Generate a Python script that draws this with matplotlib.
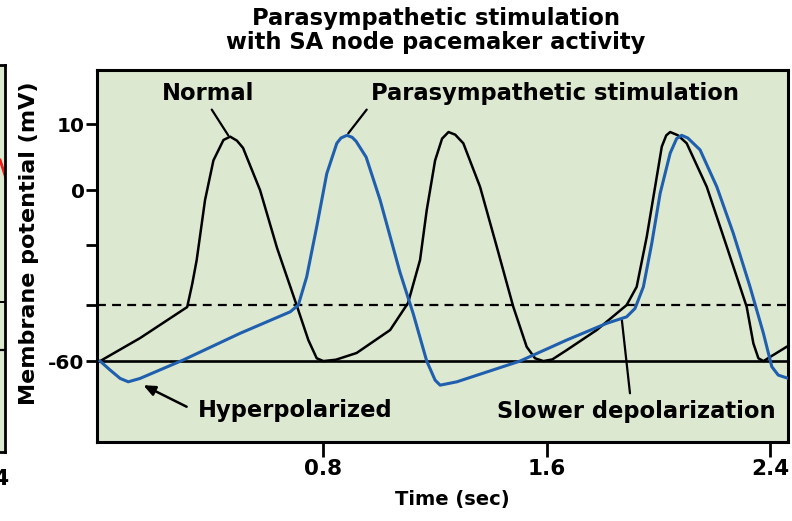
import numpy as np
import matplotlib
matplotlib.use("Agg")
import matplotlib.pyplot as plt

# ---------------- data (time in s, membrane potential in mV) ----------------
normal_t = [0.000, 0.143, 0.312, 0.330, 0.346, 0.376, 0.406, 0.442, 0.466, 0.490, 0.512,
            0.573, 0.634, 0.706, 0.746, 0.776, 0.800, 0.845,
            0.919, 1.039, 1.103, 1.146, 1.170, 1.200, 1.225, 1.248, 1.272, 1.301,
            1.361, 1.421, 1.480, 1.528, 1.558, 1.588, 1.620,
            1.671, 1.779, 1.886, 1.922, 1.958, 1.988, 2.012, 2.028, 2.042, 2.070,
            2.101, 2.173, 2.245, 2.316, 2.340, 2.358, 2.376, 2.459]
normal_v = [-60.0, -51.8, -40.7, -33.0, -25.0, -3.6, 4.5, 7.6, 8.1, 7.5, 6.4,
            0.0, -21.0, -40.6, -52.5, -59.0, -60.0, -59.5,
            -57.1, -48.9, -39.3, -25.0, -7.3, 4.5, 7.8, 8.8, 8.4, 7.1,
            0.5, -20.6, -40.6, -54.9, -59.0, -60.0, -59.4,
            -56.1, -48.9, -40.0, -33.9, -17.0, 0.5, 6.6, 8.3, 8.8, 8.3,
            7.1, 0.5, -20.6, -40.6, -53.7, -59.0, -60.0, -54.9]

para_t = [0.000, 0.036, 0.072, 0.101, 0.143, 0.298, 0.501, 0.681, 0.710, 0.740,
          0.776, 0.812, 0.848, 0.863, 0.884, 0.903, 0.917, 0.953, 1.003, 1.074,
          1.122, 1.170, 1.200, 1.218, 1.278, 1.504, 1.671, 1.815, 1.886, 1.916,
          1.946, 1.976, 2.006, 2.042, 2.065, 2.083, 2.105, 2.149, 2.209, 2.268,
          2.328, 2.376, 2.406, 2.429, 2.465]
para_v = [-60.0, -63.2, -66.2, -67.4, -66.2, -59.6, -50.1, -42.4, -40.0, -30.6,
          -13.3, 2.5, 7.1, 7.9, 8.3, 8.0, 7.4, 5.0, -3.6, -29.0,
          -43.2, -60.0, -66.8, -68.6, -67.4, -60.0, -52.5, -46.5, -44.2, -41.2,
          -33.9, -19.4, -1.2, 5.6, 7.8, 8.3, 7.9, 6.1, 0.5, -15.7,
          -33.9, -50.1, -62.0, -65.0, -66.2]

# fragment of the neighbouring (sympathetic) panel visible at the left edge
symp_t = [2.440, 2.470]
symp_v = [7.7, 3.6]

resting_mv = -60
threshold_mv = -40
ytick_vals = [10, 0, -20, -40, -60]
ytick_labels = ["10", "0", "", "", "-60"]
xtick_vals = [0.8, 1.6, 2.4]
xtick_labels = ["0.8", "1.6", "2.4"]

# ---------------- schematic (non-linear) potential axis ----------------
MV_K = np.array([-60.0, -40.0, -20.0, 0.0, 10.0])
POS_K = np.array([0.0, 56.0, 116.0, 171.0, 237.0])
S_LO = (POS_K[1] - POS_K[0]) / (MV_K[1] - MV_K[0])
S_HI = (POS_K[-1] - POS_K[-2]) / (MV_K[-1] - MV_K[-2])


def fwd(v):
    v = np.asarray(v, dtype=float)
    out = np.interp(v, MV_K, POS_K)
    out = np.where(v < MV_K[0], POS_K[0] + (v - MV_K[0]) * S_LO, out)
    out = np.where(v > MV_K[-1], POS_K[-1] + (v - MV_K[-1]) * S_HI, out)
    return out


def inv(p):
    p = np.asarray(p, dtype=float)
    out = np.interp(p, POS_K, MV_K)
    out = np.where(p < POS_K[0], MV_K[0] + (p - POS_K[0]) / S_LO, out)
    out = np.where(p > POS_K[-1], MV_K[-1] + (p - POS_K[-1]) / S_HI, out)
    return out


# ---------------- styling ----------------
BG = "#dde8d1"
BLUE = "#1f5fae"
plt.rcParams["font.family"] = ["DejaVu Sans"]
plt.rcParams["font.weight"] = "bold"

W, H = 792, 521
fig = plt.figure(figsize=(W / 100, H / 100), dpi=100)

# ---- left neighbouring panel (mostly outside the figure) ----
axL = fig.add_axes([-400 / W, 1 - 452 / H, 405 / W, (452 - 65) / H])
axL.set_facecolor(BG)
axL.set_yscale("function", functions=(fwd, inv))
axL.set_xlim(2.46 - 405 / 279.2, 2.46)
axL.set_ylim(-102.5, 24.5)
axL.axhline(resting_mv, color="black", lw=1.6)
axL.axhline(threshold_mv, color="black", lw=1.4, dashes=(4, 3))
axL.plot(symp_t, symp_v, color="#e8201c", lw=2.0)
axL.set_xticks(xtick_vals)
axL.set_xticklabels(xtick_labels, fontsize=15.5, fontweight="bold")
axL.set_yticks([])
axL.tick_params(axis="x", length=10, width=2, pad=2)
for s in axL.spines.values():
    s.set_linewidth(2.0)

# ---- main panel ----
ax = fig.add_axes([97 / W, 1 - 442 / H, (788 - 97) / W, (442 - 70) / H])
ax.set_facecolor(BG)
ax.set_yscale("function", functions=(fwd, inv))
ax.set_xlim(-0.011, 2.464)
ax.set_ylim(-88.9, 18.2)

ax.axhline(resting_mv, color="black", lw=1.9, zorder=2)
ax.axhline(threshold_mv, color="black", lw=1.6, dashes=(4, 2.8), zorder=2)

ax.plot(normal_t, normal_v, color="black", lw=1.8, solid_joinstyle="round", zorder=3)
ax.plot(para_t, para_v, color=BLUE, lw=2.2, solid_joinstyle="round", zorder=4)

ax.set_xticks(xtick_vals)
ax.set_xticklabels(xtick_labels, fontsize=15.5, fontweight="bold")
ax.set_yticks(ytick_vals)
ax.set_yticklabels(ytick_labels, fontsize=14.5, fontweight="bold")
ax.yaxis.set_minor_locator(matplotlib.ticker.NullLocator())
ax.tick_params(axis="x", direction="out", length=10.5, width=2.0, pad=2)
ax.tick_params(axis="y", direction="out", length=8, width=2.0, pad=1)
for s in ax.spines.values():
    s.set_linewidth(2.2)

# ---- annotations ----
fs_ann = 16.3
ax.text(0.387, 14.7, "Normal", ha="center", va="center", fontsize=fs_ann, fontweight="bold")
ax.annotate("", xy=(0.459, 8.3), xytext=(0.40, 12.2),
            arrowprops=dict(arrowstyle="-", lw=1.6, color="black", shrinkA=0, shrinkB=0))

ax.text(1.63, 14.7, "Parasympathetic stimulation", ha="center", va="center",
        fontsize=fs_ann, fontweight="bold")
ax.annotate("", xy=(0.889, 8.6), xytext=(0.955, 12.2),
            arrowprops=dict(arrowstyle="-", lw=1.6, color="black", shrinkA=0, shrinkB=0))

ax.text(0.698, -77.5, "Hyperpolarized", ha="center", va="center",
        fontsize=fs_ann, fontweight="bold")
ax.annotate("", xy=(0.155, -68.6), xytext=(0.31, -76.3),
            arrowprops=dict(arrowstyle="-|>,head_length=0.7,head_width=0.3", lw=1.8,
                            color="black", shrinkA=0, shrinkB=0))

ax.text(1.922, -78.1, "Slower depolarization", ha="center", va="center",
        fontsize=fs_ann, fontweight="bold")
ax.annotate("", xy=(1.869, -45.4), xytext=(1.898, -71.5),
            arrowprops=dict(arrowstyle="-", lw=1.6, color="black", shrinkA=0, shrinkB=0))

# ---- titles / axis labels ----
fig.text(436 / W, 1 - 18 / H, "Parasympathetic stimulation", ha="center", va="center",
         fontsize=16.3, fontweight="bold")
fig.text(436 / W, 1 - 42 / H, "with SA node pacemaker activity", ha="center", va="center",
         fontsize=16.3, fontweight="bold")
fig.text(29 / W, 1 - 243 / H, "Membrane potential (mV)", rotation=90, ha="center",
         va="center", fontsize=16, fontweight="bold")
fig.text(452 / W, 1 - 500 / H, "Time (sec)", ha="center", va="center",
         fontsize=14, fontweight="bold")

fig.savefig("out.png", dpi=100, facecolor="white")
